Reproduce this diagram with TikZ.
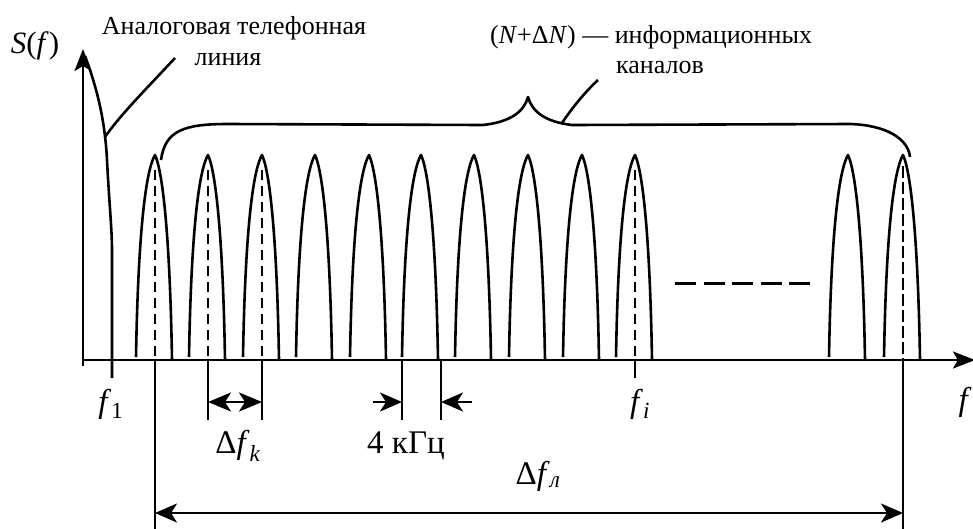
\documentclass[tikz,border=0pt]{standalone}
\usepackage{fontspec}
\setmainfont{Liberation Serif}
\usetikzlibrary{arrows.meta}
\begin{document}
\begin{tikzpicture}[x=1pt,y=-1pt,
  ln/.style={line width=2.6pt, line join=round},
  axisln/.style={line width=2.8pt, -{Stealth[length=22pt,width=17pt,inset=5pt]}},
  ctrdash/.style={line width=2.6pt, dash pattern=on 10pt off 6pt},
  thindash/.style={line width=1.3pt, dash pattern=on 12pt off 4pt},
  dimln/.style={line width=2.5pt},
  toplbl/.style={inner sep=0pt, font=\fontsize{26}{29}\selectfont},
  botlbl/.style={inner sep=0pt, font=\fontsize{33}{36}\selectfont},
]
\useasboundingbox (0,0) rectangle (973,528);
\clip (0,0) rectangle (973,528);

% axes
\coordinate (Ybot) at (83,366);
\coordinate (Ytop) at (83,49);
\coordinate (O) at (83,360);
\coordinate (Xend) at (975,360);
\draw[axisln] (Ybot) -- (Ytop);
\draw[axisln] (O) -- (Xend);

% analog telephone line
\draw[ln] (85,56) .. controls (97,88) and (105,120) .. (107,160)
  .. controls (109,200) and (112,230) .. (112,250) -- (112,378);
\coordinate (anA) at (105,137);
\coordinate (anB) at (175,58);
\draw[ln] (anA) .. controls (120,115) and (150,85) .. (anB);

% brace
\draw[ln] (161,160) .. controls (165,130) and (185,124) .. (228,124) -- (483,125)
  .. controls (510,122) and (524,112) .. (528,97)
  .. controls (532,112) and (546,122) .. (572,125) -- (850,124)
  .. controls (885,125) and (908,138) .. (910,157);
\coordinate (brA) at (562,123);
\coordinate (brB) at (598,80);
\draw[ln] (brA) .. controls (572,108) and (585,92) .. (brB);

% channel peaks
\foreach \p in {155,208,262,315,369,421,474,528,582,635,848,903}{
  \draw[ln] ({\p-19},357) .. controls ({\p-17},240) and ({\p-10},172) .. (\p,155)
    .. controls ({\p+8},172) and ({\p+15},240) .. ({\p+17},360);
}
% centre dashed lines
\foreach \p in {155,208,262,635}{
  \draw[ctrdash] (\p,170) -- (\p,360);
}
\draw[thindash] (903,166) -- (903,360);

% extension lines below the axis
\draw[dimln] (155,360) -- (155,530);
\draw[dimln] (903,360) -- (903,530);
\draw[dimln] (208,360) -- (208,420);
\draw[dimln] (262,360) -- (262,420);
\draw[dimln] (402,360) -- (402,420);
\draw[dimln] (441,360) -- (441,420);
\draw[dimln] (635,360) -- (635,378);

% dimension arrows
\coordinate (kL) at (208,402);
\coordinate (kR) at (262,402);
\draw[dimln, {Stealth[length=23pt,width=19pt,inset=6pt]}-{Stealth[length=23pt,width=19pt,inset=6pt]}] (kL) -- (kR);
\coordinate (hA) at (373,402);
\coordinate (hB) at (402,402);
\coordinate (hC) at (472,402);
\coordinate (hD) at (441,402);
\draw[dimln, -{Stealth[length=22pt,width=19pt,inset=6pt]}] (hA) -- (hB);
\draw[dimln, -{Stealth[length=22pt,width=19pt,inset=6pt]}] (hC) -- (hD);
\coordinate (lL) at (155,513);
\coordinate (lR) at (903,513);
\draw[dimln, {Stealth[length=22pt,width=19pt,inset=6pt]}-{Stealth[length=22pt,width=19pt,inset=6pt]}] (lL) -- (lR);

% dashed continuation
\draw[line width=3pt, dash pattern=on 21pt off 7.5pt] (675,283) -- (810,283);

% labels
\node[inner sep=0pt, font=\fontsize{31}{33}\selectfont] (S) at (35,46) {\textit{S}(\textit{f})};
\node[toplbl] (an1) at (234,28) {Аналоговая телефонная};
\node[toplbl] (an2) at (228,60) {линия};
\node[toplbl] (ch1) at (651,37) {(\textit{N}+Δ\textit{N}) — информационных};
\node[toplbl] (ch2) at (660,67) {каналов};
\node[botlbl] (f1) at (111,404) {\textit{f}\textsubscript{1}};
\node[botlbl] (dfk) at (238,446) {Δ\textit{f}\textsubscript{\textit{k}}};
\node[botlbl] (khz) at (406,446) {4 кГц};
\node[botlbl] (fi) at (640,404) {\textit{f}\textsubscript{\textit{i}}};
\node[botlbl] (dfl) at (538,476) {Δ\textit{f}\textsubscript{\textit{л}}};
\node[botlbl] (f) at (965,402) {\textit{f}};
\end{tikzpicture}
\end{document}
